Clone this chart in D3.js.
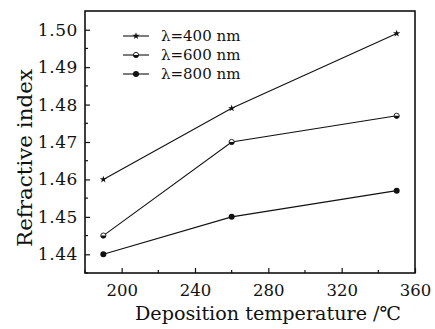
<!DOCTYPE html>
<html>
<head>
<meta charset="utf-8">
<script src="https://cdn.jsdelivr.net/npm/d3@7"></script>
<style>
  body { margin: 0; background: #fff; }
  text { font-family: "DejaVu Serif", "Liberation Serif", serif; fill: #111; }
</style>
</head>
<body>
<div id="chart"></div>
<script>
// data
var temps = [190, 260, 350];
var n400 = [1.460, 1.479, 1.499];
var n600 = [1.445, 1.470, 1.477];
var n800 = [1.440, 1.450, 1.457];
var seriesNames = ["\u03bb=400 nm", "\u03bb=600 nm", "\u03bb=800 nm"];
var xTicks = [200, 240, 280, 320, 360];
var yTicks = [1.44, 1.45, 1.46, 1.47, 1.48, 1.49, 1.50];

var W = 435, H = 329;
var m = {left: 85, top: 11, right: 20, bottom: 56};

var svg = d3.select("#chart").append("svg").attr("width", W).attr("height", H);

var x = d3.scaleLinear().domain([180, 360]).range([m.left, W - m.right]);
var y = d3.scaleLinear().domain([1.435, 1.505]).range([H - m.bottom, m.top]);

//ticks point inward
var xAxis = d3.axisBottom(x).tickValues(xTicks).tickSize(-5).tickFormat(d3.format("d"));
var yAxis = d3.axisLeft(y).tickValues(yTicks).tickSize(-5).tickFormat(d3.format(".2f"));

var gx = svg.append("g").attr("transform", "translate(0," + (H - m.bottom) + ")").call(xAxis);
var gy = svg.append("g").attr("transform", "translate(" + m.left + ",0)").call(yAxis);

[gx, gy].forEach(function (g) {
  g.select(".domain").remove();
  g.selectAll("line").attr("stroke", "#111").attr("stroke-width", 1.2);
  g.selectAll("text").style("font-size", "17px");
});
gx.selectAll("text").attr("dy", "0").attr("y", 23).style("font-size", "16.5px");
gy.selectAll("text").attr("x", -7).style("letter-spacing", "0.6px");

// minor ticks
var xMinor = d3.range(180, 361, 20).filter(function (v) { return xTicks.indexOf(v) < 0; });
var yMinor = [1.435, 1.445, 1.455, 1.465, 1.475, 1.485, 1.495];
svg.selectAll(".xm").data(xMinor).enter().append("line")
  .attr("x1", function (d) { return x(d); }).attr("x2", function (d) { return x(d); })
  .attr("y1", H - m.bottom).attr("y2", H - m.bottom - 3)
  .attr("stroke", "#111").attr("stroke-width", 1.2);
svg.selectAll(".ym").data(yMinor).enter().append("line")
  .attr("x1", m.left).attr("x2", m.left + 3)
  .attr("y1", function (d) { return y(d); }).attr("y2", function (d) { return y(d); })
  .attr("stroke", "#111").attr("stroke-width", 1.2);

// frame
svg.append("rect")
  .attr("x", m.left).attr("y", m.top)
  .attr("width", W - m.right - m.left).attr("height", H - m.bottom - m.top)
  .attr("fill", "none").attr("stroke", "#111").attr("stroke-width", 1.6);

// series lines
var line = d3.line().x(function (d) { return x(d[0]); }).y(function (d) { return y(d[1]); });
var allSeries = [n400, n600, n800].map(function (vals) {
  return temps.map(function (t, i) { return [t, vals[i]]; });
});

svg.selectAll(".series").data(allSeries).enter().append("path")
  .attr("d", line).attr("fill", "none").attr("stroke", "#111").attr("stroke-width", 1.1);

var star = d3.symbol().type(d3.symbolStar).size(16);

function drawMarker(g, k, cx, cy) {
  if (k === 0) {
    g.append("path").attr("d", star).attr("transform", "translate(" + cx + "," + cy + ")").attr("fill", "#111");
  } else if (k === 1) {
    g.append("circle").attr("cx", cx).attr("cy", cy).attr("r", 2.6)
      .attr("fill", "#fff").attr("stroke", "#111").attr("stroke-width", 0.9);
    var arc = d3.arc().innerRadius(0).outerRadius(2.6).startAngle(Math.PI / 2).endAngle(Math.PI * 1.5);
    g.append("path").attr("d", arc()).attr("transform", "translate(" + cx + "," + cy + ")").attr("fill", "#111");
  } else {
    g.append("circle").attr("cx", cx).attr("cy", cy).attr("r", 3).attr("fill", "#111");
  }
}

var marks = svg.append("g");
allSeries.forEach(function (s, k) {
  s.forEach(function (p) { drawMarker(marks, k, x(p[0]), y(p[1])); });
});

// legend
var leg = svg.append("g");
seriesNames.forEach(function (name, k) {
  var ly = 36 + k * 19;
  leg.append("line").attr("x1", 123).attr("x2", 149).attr("y1", ly).attr("y2", ly)
    .attr("stroke", "#111").attr("stroke-width", 1.1);
  drawMarker(leg, k, 136, ly);
  leg.append("text").attr("x", 161).attr("y", ly + 5)
    .style("font-size", "15px").text(name);
});

// axis titles
svg.append("text").attr("x", 268).attr("y", 320).attr("text-anchor", "middle")
  .style("font-size", "19px").attr("textLength", 266).attr("lengthAdjust", "spacingAndGlyphs")
  .text("Deposition temperature /\u2103");
svg.append("text").attr("transform", "translate(32,158) rotate(-90)").attr("text-anchor", "middle")
  .style("font-size", "20px").attr("textLength", 178).attr("lengthAdjust", "spacingAndGlyphs")
  .text("Refractive index");
</script>
</body>
</html>
